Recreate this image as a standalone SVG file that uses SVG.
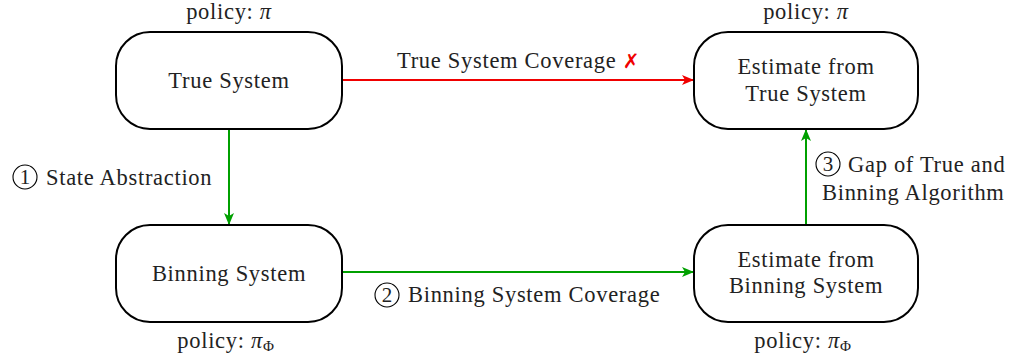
<svg xmlns="http://www.w3.org/2000/svg" width="1016" height="357" viewBox="0 0 1016 357">
<style>
.node{fill:#fff;stroke:#000;stroke-width:2}
text{font-family:"Liberation Serif","Times New Roman",serif;font-size:22.5px;letter-spacing:0.7px;fill:#222;text-anchor:middle}
.l{text-anchor:start}
.it{font-style:italic}
.c{fill:none;stroke:#000;stroke-width:1.1}
.d{font-size:21px;letter-spacing:0}
.g{stroke:#00a000;stroke-width:2;fill:none}
.r{stroke:#f00000;stroke-width:2;fill:none}
</style>
<defs>
<marker id="ag" viewBox="0 0 12 10" refX="11" refY="5" markerWidth="12" markerHeight="10" markerUnits="userSpaceOnUse" orient="auto"><path d="M0,0 L12,5 L0,10 L3,5 Z" fill="#00a000"/></marker>
<marker id="ar" viewBox="0 0 12 10" refX="11" refY="5" markerWidth="12" markerHeight="10" markerUnits="userSpaceOnUse" orient="auto"><path d="M0,0 L12,5 L0,10 L3,5 Z" fill="#f00000"/></marker>
</defs>
<g id="connectors">
<line class="r" x1="342" y1="80" x2="693" y2="80" marker-end="url(#ar)"/>
<line class="g" x1="229" y1="129" x2="229" y2="224" marker-end="url(#ag)"/>
<line class="g" x1="342" y1="272" x2="693" y2="272" marker-end="url(#ag)"/>
<line class="g" x1="806" y1="225" x2="806" y2="130" marker-end="url(#ag)"/>
</g>
<g id="true-system">
<rect class="node" x="116" y="32" width="226" height="97" rx="34"/>
<text x="229" y="88">True System</text>
<text x="229" y="19">policy: <tspan class="it">π</tspan></text>
</g>
<g id="estimate-true">
<rect class="node" x="694" y="32" width="224" height="97" rx="34"/>
<text x="806" y="74">Estimate from</text>
<text x="806" y="101">True System</text>
<text x="806" y="19">policy: <tspan class="it">π</tspan></text>
</g>
<g id="binning-system">
<rect class="node" x="116" y="225" width="226" height="97" rx="34"/>
<text x="229" y="281">Binning System</text>
<text x="226" y="348">policy: <tspan class="it">π</tspan><tspan font-size="15" dy="3">Φ</tspan></text>
</g>
<g id="estimate-binning">
<rect class="node" x="694" y="225" width="224" height="97" rx="34"/>
<text x="806" y="267">Estimate from</text>
<text x="806" y="293">Binning System</text>
<text x="803" y="348">policy: <tspan class="it">π</tspan><tspan font-size="15" dy="3">Φ</tspan></text>
</g>
<g id="labels">
<circle class="c" cx="25" cy="177" r="12"/>
<text class="d" x="25" y="184">1</text>
<text class="l" x="46" y="185">State Abstraction</text>
<text class="l" x="397" y="68">True System Coverage <tspan fill="#f00000" font-family="DejaVu Sans,sans-serif" font-weight="bold" font-size="20">✗</tspan></text>
<circle class="c" cx="387" cy="295" r="12"/>
<text class="d" x="387" y="302">2</text>
<text class="l" x="408" y="302">Binning System Coverage</text>
<circle class="c" cx="828" cy="164" r="12"/>
<text class="d" x="828" y="171">3</text>
<text class="l" x="848" y="172">Gap of True and</text>
<text class="l" x="822" y="200">Binning Algorithm</text>
</g>
</svg>
